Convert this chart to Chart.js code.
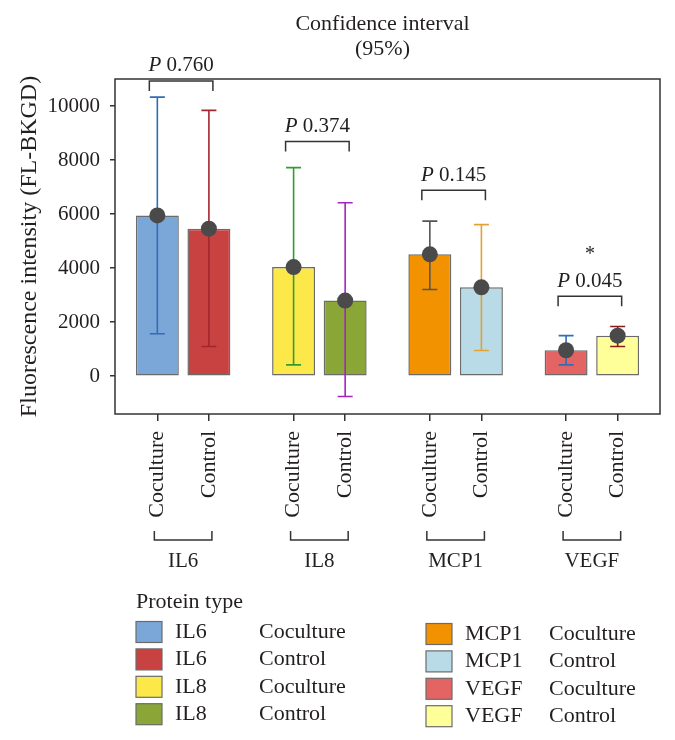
<!DOCTYPE html>
<html><head><meta charset="utf-8">
<script src="https://cdn.jsdelivr.net/npm/chart.js@4/dist/chart.umd.min.js"></script>
<style>html,body{margin:0;padding:0;background:#fff}#wrap{width:675px;height:740px;position:relative}</style>
</head><body><div id="wrap"><canvas id="c" width="675" height="740"></canvas></div>
<script>
// ---- data ----
const proteins = ['IL6', 'IL8', 'MCP1', 'VEGF'];
const conditions = ['Coculture', 'Control'];
const cocultureMean  = [5950, 4040, 4510, 960];
const cocultureLower = [1570, 420, 3210, 420];
const cocultureUpper = [10330, 7720, 5740, 1500];
const controlMean    = [5460, 2800, 3290, 1500];
const controlLower   = [1100, -750, 950, 1100];
const controlUpper   = [9840, 6420, 5610, 1840];
const pValues = ['0.760', '0.374', '0.145', '0.045'];
const bracketLevels = [10930, 8690, 6880, 2960];
const significant = [false, false, false, true];
const yTicks = [0, 2000, 4000, 6000, 8000, 10000];
const chartTitle = ['Confidence interval', '(95%)'];
const yTitle = 'Fluorescence intensity (FL-BKGD)';
const legendTitle = 'Protein type';

// ---- styles ----
const cocultureColors = ['#7ba6d8', '#fde84a', '#f39200', '#e46363'];
const controlColors   = ['#c94242', '#8aa637', '#b9dbe7', '#ffff99'];
const cocultureErrColors = ['#2f6db5', '#2f9e32', '#555555', '#2f6db5'];
const controlErrColors   = ['#a3282b', '#a324c0', '#e3a235', '#8b1a1a'];
const FONT = "'Liberation Serif','Times New Roman',serif";
const TEXT = '#231f20';
const LINE = '#333333';
const CAT_PCT = 0.757, BAR_PCT = 0.833;
const half = CAT_PCT / 4;

const overlay = {
  id: 'overlay',
  afterDatasetsDraw(chart) {
    const ctx = chart.ctx, ys = chart.scales.y;
    const lows = [cocultureLower, controlLower], ups = [cocultureUpper, controlUpper];
    const errC = [cocultureErrColors, controlErrColors];
    chart.data.datasets.forEach((ds, di) => {
      chart.getDatasetMeta(di).data.forEach((bar, i) => {
        const yl = ys.getPixelForValue(lows[di][i]), yu = ys.getPixelForValue(ups[di][i]);
        ctx.save();
        ctx.strokeStyle = errC[di][i]; ctx.lineWidth = 1.6;
        ctx.beginPath();
        ctx.moveTo(bar.x, yl); ctx.lineTo(bar.x, yu);
        ctx.moveTo(bar.x - 7.5, yl); ctx.lineTo(bar.x + 7.5, yl);
        ctx.moveTo(bar.x - 7.5, yu); ctx.lineTo(bar.x + 7.5, yu);
        ctx.stroke();
        ctx.restore();
      });
    });
    chart.data.datasets.forEach((ds, di) => {
      chart.getDatasetMeta(di).data.forEach((bar) => {
        ctx.save();
        ctx.fillStyle = '#4a4a4a';
        ctx.beginPath(); ctx.arc(bar.x, bar.y, 8, 0, Math.PI * 2); ctx.fill();
        ctx.restore();
      });
    });
  },
  afterDraw(chart) {
    const ctx = chart.ctx, a = chart.chartArea, ys = chart.scales.y;
    const m0 = chart.getDatasetMeta(0).data, m1 = chart.getDatasetMeta(1).data;
    ctx.save();
    // frame
    ctx.strokeStyle = LINE; ctx.lineWidth = 1.5;
    ctx.strokeRect(a.left, a.top, a.right - a.left, a.bottom - a.top);
    // title
    ctx.fillStyle = TEXT; ctx.textAlign = 'center'; ctx.textBaseline = 'middle';
    ctx.font = '22px ' + FONT;
    const cx = (a.left + a.right) / 2 - 5;
    ctx.fillText(chartTitle[0], cx, a.top - 55);
    ctx.fillText(chartTitle[1], cx, a.top - 30);
    // p-value brackets
    proteins.forEach((p, i) => {
      const x1 = m0[i].x - 8, x2 = m1[i].x + 4;
      const by = ys.getPixelForValue(bracketLevels[i]);
      ctx.strokeStyle = LINE; ctx.lineWidth = 1.5;
      ctx.beginPath();
      ctx.moveTo(x1, by + 10); ctx.lineTo(x1, by); ctx.lineTo(x2, by); ctx.lineTo(x2, by + 10);
      ctx.stroke();
      const ty = by - 15, mx = (x1 + x2) / 2;
      ctx.font = 'italic 21px ' + FONT;
      const wP = ctx.measureText('P').width;
      ctx.font = '21px ' + FONT;
      const rest = ' ' + pValues[i];
      const wR = ctx.measureText(rest).width;
      const sx = mx - (wP + wR) / 2;
      ctx.textAlign = 'left';
      ctx.font = 'italic 21px ' + FONT; ctx.fillText('P', sx, ty);
      ctx.font = '21px ' + FONT; ctx.fillText(rest, sx + wP, ty);
      if (significant[i]) {
        ctx.textAlign = 'center';
        ctx.font = '20px ' + FONT;
        ctx.fillText('*', mx, ty - 26);
      }
    });
    // group brackets under x labels
    proteins.forEach((p, i) => {
      const x1 = m0[i].x - 3, x2 = m1[i].x + 3;
      const yb = a.bottom + 126;
      ctx.strokeStyle = LINE; ctx.lineWidth = 1.5;
      ctx.beginPath();
      ctx.moveTo(x1, yb - 9); ctx.lineTo(x1, yb); ctx.lineTo(x2, yb); ctx.lineTo(x2, yb - 9);
      ctx.stroke();
      ctx.textAlign = 'center'; ctx.font = '21px ' + FONT; ctx.fillStyle = TEXT;
      ctx.fillText(p, (x1 + x2) / 2, a.bottom + 147);
    });
    // legend
    ctx.textAlign = 'left'; ctx.font = '22px ' + FONT; ctx.fillStyle = TEXT;
    ctx.fillText(legendTitle, 136, 602);
    const entries = [];
    proteins.forEach((p, i) => {
      entries.push([p, conditions[0], cocultureColors[i]]);
      entries.push([p, conditions[1], controlColors[i]]);
    });
    entries.forEach((e, k) => {
      const col = Math.floor(k / 4), row = k % 4;
      const x0 = col === 0 ? 136 : 426;
      const yc = (col === 0 ? 632 : 634) + row * 27.4;
      ctx.fillStyle = e[2];
      ctx.fillRect(x0, yc - 10.5, 26, 21);
      ctx.strokeStyle = '#6b6b6b'; ctx.lineWidth = 1.2;
      ctx.strokeRect(x0, yc - 10.5, 26, 21);
      ctx.fillStyle = TEXT; ctx.font = '22px ' + FONT;
      ctx.fillText(e[0], x0 + 39, yc);
      ctx.fillText(e[1], x0 + 123, yc);
    });
    ctx.restore();
  }
};

new Chart(document.getElementById('c'), {
  type: 'bar',
  data: {
    labels: proteins,
    datasets: [
      { label: conditions[0], data: cocultureMean, backgroundColor: cocultureColors,
        borderColor: '#6b6b6b', borderWidth: 1.5, borderSkipped: false },
      { label: conditions[1], data: controlMean, backgroundColor: controlColors,
        borderColor: '#6b6b6b', borderWidth: 1.5, borderSkipped: false }
    ]
  },
  options: {
    responsive: false,
    devicePixelRatio: 1,
    animation: false,
    categoryPercentage: CAT_PCT,
    barPercentage: BAR_PCT,
    layout: { padding: { top: 79, right: 15, left: 0, bottom: 0 } },
    plugins: { legend: { display: false }, tooltip: { enabled: false }, title: { display: false } },
    scales: {
      x: { display: false },
      xt: {
        type: 'linear', position: 'bottom', min: -0.5, max: 3.5, offset: false,
        afterBuildTicks(scale) {
          scale.ticks = [];
          proteins.forEach((p, i) => { scale.ticks.push({ value: i - half }, { value: i + half }); });
        },
        afterFit(scale) { scale.height = 326; },
        grid: { offset: false, drawOnChartArea: false, drawTicks: true, tickLength: 7, color: LINE, lineWidth: 1.5 },
        border: { display: false },
        ticks: {
          autoSkip: false, minRotation: 90, maxRotation: 90, padding: 10,
          font: { family: FONT, size: 22 }, color: TEXT,
          callback: (v, idx) => conditions[idx % 2]
        }
      },
      y: {
        min: -1400, max: 11000,
        afterBuildTicks(scale) { scale.ticks = yTicks.map(v => ({ value: v })); },
        afterFit(scale) { scale.width = 115; },
        grid: { drawOnChartArea: false, drawTicks: true, tickLength: 5, color: LINE, lineWidth: 1.5 },
        border: { display: false },
        ticks: { padding: 10, font: { family: FONT, size: 21 }, color: TEXT, callback: v => String(v) },
        title: { display: true, text: yTitle, font: { family: FONT, size: 24 }, color: TEXT,
                 padding: { top: 15, bottom: 0 } }
      }
    }
  },
  plugins: [overlay]
});
</script>
</body></html>
